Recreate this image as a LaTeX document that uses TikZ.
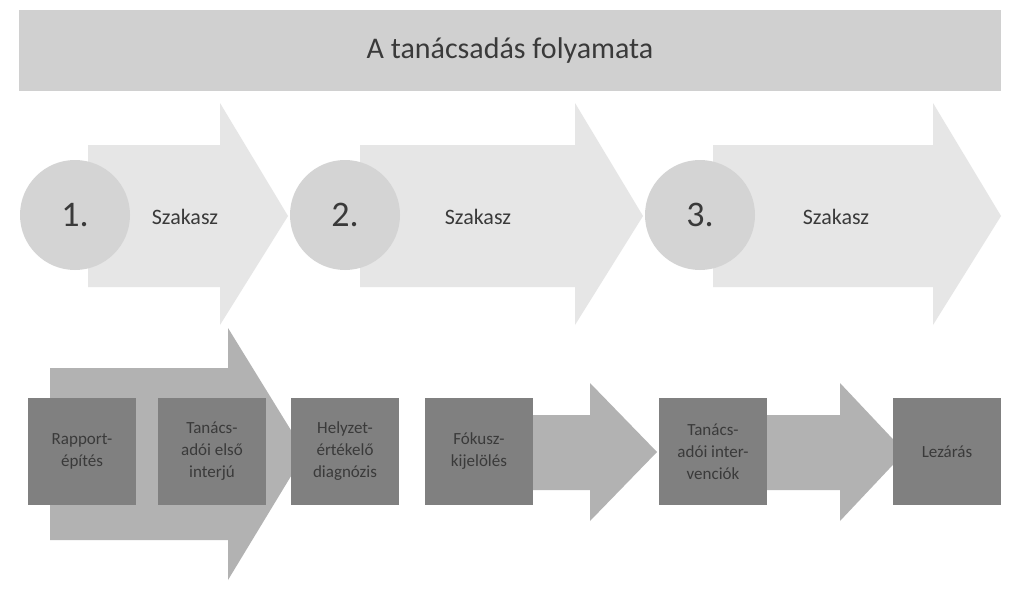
\documentclass[tikz,border=0pt]{standalone}
\usepackage{fontspec}
\setmainfont{Carlito}
\begin{document}
\begin{tikzpicture}[x=1pt,y=-1pt]
\definecolor{tbar}{HTML}{D0D0D0}
\definecolor{barr}{HTML}{E6E6E6}
\definecolor{circ}{HTML}{D4D4D4}
\definecolor{marr}{HTML}{B2B2B2}
\definecolor{dbox}{HTML}{808080}
\definecolor{txt}{HTML}{3A3A3A}
\tikzset{
 bigarrow/.style={fill=barr,draw=none},
 circnode/.style={circle,fill=circ,minimum size=110pt,inner sep=0,font=\fontsize{36}{36}\selectfont,text=txt},
 stxt/.style={font=\fontsize{22}{22}\selectfont,text=txt},
 boxnode/.style={fill=dbox,minimum width=108pt,minimum height=107pt,inner sep=2pt,align=center,text=txt,font=\fontsize{17}{22}\selectfont},
 midarrow/.style={fill=marr,draw=none}
}
\useasboundingbox (0,0) rectangle (1023,594);
\fill[white] (0,0) rectangle (1023,594);
\node[fill=tbar,minimum width=982pt,minimum height=81pt,inner sep=0,text=txt,font=\fontsize{30}{30}\selectfont] (title) at (510,50.5) {A tanácsadás folyamata};
% big arrows
\foreach \a/\b in {88/220,360/575,713/933}{
 \fill[bigarrow] (\a,145) -- (\b,145) -- (\b,103) -- (\b+68,216) -- (\b,325) -- (\b,287) -- (\a,287) -- cycle;}
\node[circnode] (c1) at (75,215) {1.};
\node[circnode] (c2) at (345,215) {2.};
\node[circnode] (c3) at (700,215) {3.};
\node[stxt] (s1) at (185,217) {Szakasz};
\node[stxt] (s2) at (478,217) {Szakasz};
\node[stxt] (s3) at (836,217) {Szakasz};
% bottom arrows
\fill[midarrow] (50,368) -- (228,368) -- (228,328) -- (305,453) -- (228,580) -- (228,540) -- (50,540) -- cycle;
\fill[midarrow] (533,415) -- (590,415) -- (590,383) -- (657,452) -- (590,521) -- (590,490) -- (533,490) -- cycle;
\fill[midarrow] (767,415) -- (840,415) -- (840,383) -- (905,452) -- (840,521) -- (840,490) -- (767,490) -- cycle;
\node[boxnode] (b1) at (82,451.5) {Rapport-\\építés};
\node[boxnode] (b2) at (212,451.5) {Tanács-\\adói első\\interjú};
\node[boxnode] (b3) at (345,451.5) {Helyzet-\\értékelő\\diagnózis};
\node[boxnode] (b4) at (479,451.5) {Fókusz-\\kijelölés};
\node[boxnode] (b5) at (713,451.5) {Tanács-\\adói inter-\\venciók};
\node[boxnode] (b6) at (947,451.5) {Lezárás};
\end{tikzpicture}
\end{document}
